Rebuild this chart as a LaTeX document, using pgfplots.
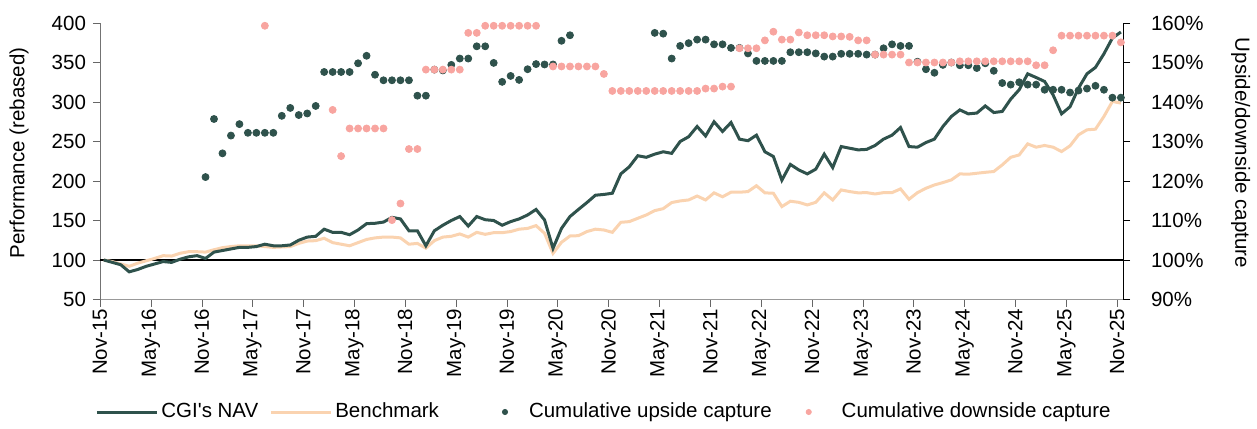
\documentclass[border=0pt]{standalone}
\usepackage{fontspec}
\setmainfont{Liberation Sans}
\usepackage{pgfplots}
\usepackage{pgfplotstable}
\pgfplotsset{compat=1.18}
\definecolor{navc}{RGB}{47,82,76}
\definecolor{benc}{RGB}{250,211,176}
\definecolor{dnc}{RGB}{248,165,160}
\newcommand\cf{\fontsize{10.25pt}{12.3pt}\selectfont}

\pgfplotstableread{
m nav bench
0 100 100
1 97 98
2 94 95
3 85 92
4 88 96
5 92 99
6 95 102
7 98 105.5
8 97 105
9 101 108.5
10 104 110.5
11 105.5 110.5
12 102 110
13 110 113
14 112 115.6
15 114 117
16 116 118
17 116 118
18 117 118
19 120 117
20 118 116
21 118 116.5
22 119 117
23 125 121
24 129 124
25 130 124.5
26 139 127.5
27 135 122
28 135 120
29 132 118
30 138 122
31 146 126
32 146.5 128
33 148 129
34 154 129
35 152 128
36 137 120
37 137 121
38 118 115
39 137 124.5
40 144 129
41 150 130
42 155 133
43 143 129
44 155 135
45 151 132.5
46 150 134.6
47 144 134.6
48 148.6 136
49 152 139
50 157 140
51 164 143.5
52 150.7 133.8
53 114.8 108.4
54 140 122.4
55 155 130.4
56 164 130.8
57 172.7 136
58 182 139
59 183 138
60 184.5 135
61 209 147.7
62 218 148.6
63 232 152.8
64 230 157
65 234 162.5
66 237 165
67 235 172.7
68 250 174.8
69 256 176
70 269 181
71 257 176
72 275 185
73 262.7 180
74 274 185.8
75 253 185.8
76 251 186.6
77 258 194
78 237 185
79 231 184.5
80 201 167.6
81 221 174.4
82 214 173
83 209 169.7
84 215 173
85 234 185
86 217 176
87 243.6 188.7
88 241.5 186.6
89 239.4 185
90 240 185.3
91 245 183.6
92 253 185.3
93 258 185.3
94 267.7 190
95 243.6 176.9
96 242.8 185.3
97 248.7 190.8
98 253 195
99 269 198
100 281.7 201.4
101 290 209
102 285 208.6
103 286 209.8
104 295 211
105 286.7 212
106 288 220.4
107 303.6 230
108 315.5 233
109 335.7 247
110 331 242.8
111 326 245
112 309 242.8
113 285 237.3
114 294 244.5
115 317.6 258.4
116 335.7 264.8
117 343.8 265.6
118 361 281.7
119 381 300.7
120 388.6 298.6
}\navtable

\pgfplotstableread{
m up
12 121.0
13 135.7
14 127.0
15 131.5
16 134.4
17 132.2
18 132.2
19 132.2
20 132.2
21 136.5
22 138.5
23 136.7
24 137.1
25 139.0
26 147.6
27 147.6
28 147.6
29 147.6
30 149.8
31 151.7
32 146.9
33 145.5
34 145.5
35 145.5
36 145.5
37 141.6
38 141.6
39 148.2
40 148.0
41 149.4
42 151.0
43 151.0
44 154.1
45 154.1
46 149.9
47 145.1
48 146.6
49 145.6
50 148.3
51 149.6
52 149.5
53 149.5
54 155.5
55 156.9
65 157.5
66 157.3
67 151.0
68 154.2
69 154.9
70 155.8
71 155.8
72 154.6
73 154.6
74 153.7
75 153.7
76 152.3
77 150.4
78 150.4
79 150.4
80 150.4
81 152.6
82 152.6
83 152.6
84 152.3
85 151.5
86 151.5
87 152.2
88 152.2
89 152.2
90 152.0
91 152.0
92 153.6
93 154.6
94 154.2
95 154.2
96 150.2
97 148.3
98 147.4
99 149.4
100 150.0
101 149.3
102 149.3
103 148.6
104 149.8
105 147.9
106 144.8
107 144.4
108 145.0
109 144.4
110 144.4
111 143.1
112 143.1
113 143.1
114 142.4
115 142.9
116 143.4
117 144.1
118 143.1
119 141.1
120 141.1
}\uptable

\pgfplotstableread{
m dn
19 159.3
27 138.0
28 126.3
29 133.3
30 133.3
31 133.3
32 133.3
33 133.3
34 110.1
35 114.3
36 128.1
37 128.1
38 148.2
39 148.2
40 148.2
41 148.2
42 148.2
43 157.5
44 157.5
45 159.3
46 159.3
47 159.3
48 159.3
49 159.3
50 159.3
51 159.3
53 149.0
54 149.0
55 149.0
56 149.0
57 149.0
58 149.0
59 147.1
60 142.8
61 142.8
62 142.8
63 142.8
64 142.8
65 142.8
66 142.8
67 142.8
68 142.8
69 142.8
70 142.8
71 143.4
72 143.4
73 143.9
74 143.9
75 153.6
76 153.6
77 153.6
78 155.6
79 157.8
80 155.8
81 155.8
82 157.6
83 156.9
84 156.9
85 156.9
86 156.6
87 156.6
88 156.5
89 155.6
90 155.6
91 152.0
92 152.0
93 152.0
94 152.0
95 150.0
96 150.0
97 150.0
98 150.0
99 150.0
100 150.0
101 150.3
102 150.3
103 150.3
104 150.3
105 150.3
106 150.3
107 150.3
108 150.3
109 150.3
110 149.3
111 149.3
112 153.1
113 156.8
114 156.8
115 156.8
116 156.8
117 156.8
118 156.8
119 156.8
120 155.1
}\dntable

\pgfplotsset{
  common/.style={
    scale only axis, width=511.5pt, height=138.25pt,
    xmin=-0.45, xmax=120.25,
    /pgf/number format/assume math mode=true,
    tick label style={font=\cf, text=black},
    label style={font=\cf},
    major tick length=3.5pt,
    tick align=outside,
    axis line style={-},
  }
}

\begin{document}
\begin{tikzpicture}
\path[use as bounding box] (-50pt,-64.25pt) rectangle (578.5pt,149.75pt);
\begin{axis}[common, at={(0,0)}, anchor=south west,
  ymin=50, ymax=400, ytick={50,100,150,200,250,300,350,400},
  axis x line*=bottom, axis y line*=left,
  x axis line style={color=black!40},
  y axis line style={color=black!55},
  xtick style={color=black!60}, ytick style={color=black!60},
  xtick={-0.45,5.55,11.55,17.55,23.55,29.55,35.55,41.55,47.55,53.55,59.55,65.55,71.55,77.55,83.55,89.55,95.55,101.55,107.55,113.55,119.55},
  xticklabels={Nov-15,May-16,Nov-16,May-17,Nov-17,May-18,Nov-18,May-19,Nov-19,May-20,Nov-20,May-21,Nov-21,May-22,Nov-22,May-23,Nov-23,May-24,Nov-24,May-25,Nov-25},
  xticklabel style={rotate=90, anchor=east, inner sep=1pt},
  ylabel={Performance (rebased)},
  ylabel style={at={(axis description cs:-0.0792,0.53)}, anchor=center},
]
\addplot[black, line width=0.6pt, forget plot] coordinates {(-0.45,100) (120.25,100)};
\addplot[benc, line width=1.5pt] table[x=m,y=bench]{\navtable};
\addplot[navc, line width=1.5pt] table[x=m,y=nav]{\navtable};
\end{axis}
\begin{axis}[common, at={(0,0)}, anchor=south west,
  ymin=90, ymax=160, ytick={90,100,110,120,130,140,150,160},
  axis y line*=right, axis x line=none,
  y axis line style={color=black},
  ytick style={color=black},
  yticklabel={\pgfmathprintnumber{\tick}\%},
  yticklabel style={xshift=7pt},
  ylabel={Upside/downside capture},
  ylabel style={at={(axis description cs:1.1149,0.53)}, anchor=center, rotate=180},
  legend style={at={(axis description cs:-0.0049,-0.4069)}, anchor=west,
    draw=none, fill=none, legend columns=4, font=\cf, inner sep=0pt,
    nodes={inner sep=1.5pt},
    /tikz/every even column/.append style={column sep=4pt}},
]
\addlegendimage{legend image code/.code={\draw[navc, line width=1.5pt] (0pt,0pt) -- (30pt,0pt);}}
\addlegendentry{CGI\textquotesingle s NAV}
\addlegendimage{legend image code/.code={\draw[benc, line width=1.5pt] (0pt,0pt) -- (30pt,0pt);}}
\addlegendentry{Benchmark}
\addplot[only marks, mark=*, mark size=1.75pt, navc,
  legend image code/.code={\path[draw=none, fill=none] (0pt,-2pt) rectangle (38pt,2pt); \fill[navc] (27.5pt,0pt) circle (1.3pt);}]
  table[x=m,y=up]{\uptable};
\addlegendentry{Cumulative upside capture}
\addplot[only marks, mark=*, mark size=1.75pt, dnc,
  legend image code/.code={\path[draw=none, fill=none] (0pt,-2pt) rectangle (28pt,2pt); \fill[dnc] (13pt,0pt) circle (1.3pt);}]
  table[x=m,y=dn]{\dntable};
\addlegendentry{Cumulative downside capture}
\end{axis}
\end{tikzpicture}
\end{document}
